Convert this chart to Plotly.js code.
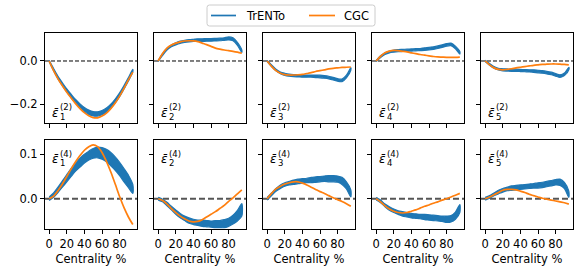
<!DOCTYPE html>
<html>
<head>
<meta charset="utf-8">
<script src="https://cdn.plot.ly/plotly-3.0.1.min.js"></script>
<style>html,body{margin:0;padding:0;background:#fff}#plot{width:581px;height:274px}</style>
</head>
<body>
<div id="plot"></div>
<script>
// Centrality bins (%)
const cent = [0,5,10,15,20,25,30,35,40,45,50,55,60,65,70,75,80,85,90,95];

// ---- Top row: eps_n^(2) ----
const trento_e1_2 = [0,-0.04,-0.077,-0.108,-0.137,-0.163,-0.187,-0.208,-0.225,-0.238,-0.245,-0.246,-0.24,-0.228,-0.21,-0.186,-0.157,-0.122,-0.085,-0.045];
const spread_e1_2 = [0.003,0.005,0.006,0.007,0.007,0.008,0.008,0.009,0.009,0.01,0.01,0.01,0.01,0.01,0.009,0.009,0.009,0.008,0.008,0.006];
const cgc_e1_2    = [0,-0.045,-0.083,-0.115,-0.145,-0.172,-0.198,-0.221,-0.24,-0.254,-0.263,-0.264,-0.256,-0.242,-0.221,-0.195,-0.163,-0.127,-0.088,-0.052];

const trento_e2_2 = [0,0.03,0.055,0.07,0.08,0.087,0.091,0.094,0.096,0.097,0.097,0.098,0.098,0.099,0.1,0.102,0.105,0.101,0.08,0.045];
const spread_e2_2 = [0.003,0.004,0.004,0.004,0.005,0.005,0.005,0.005,0.005,0.006,0.006,0.006,0.006,0.006,0.006,0.006,0.007,0.007,0.007,0.006];
const cgc_e2_2    = [0,0.035,0.06,0.074,0.083,0.089,0.093,0.094,0.093,0.09,0.083,0.076,0.068,0.06,0.055,0.051,0.048,0.045,0.041,0.036];

const trento_e3_2 = [0,-0.022,-0.042,-0.055,-0.062,-0.066,-0.068,-0.069,-0.07,-0.07,-0.07,-0.071,-0.072,-0.074,-0.077,-0.082,-0.088,-0.09,-0.072,-0.037];
const spread_e3_2 = [0.003,0.004,0.004,0.004,0.005,0.005,0.005,0.005,0.005,0.005,0.005,0.006,0.006,0.006,0.006,0.006,0.006,0.006,0.006,0.006];
const cgc_e3_2    = [0,-0.025,-0.045,-0.057,-0.063,-0.065,-0.065,-0.064,-0.062,-0.058,-0.054,-0.049,-0.045,-0.041,-0.037,-0.034,-0.032,-0.03,-0.029,-0.028];

const trento_e4_2 = [0,0.02,0.034,0.042,0.046,0.048,0.049,0.05,0.051,0.052,0.053,0.055,0.057,0.06,0.064,0.069,0.075,0.077,0.063,0.038];
const spread_e4_2 = [0.003,0.004,0.004,0.004,0.005,0.005,0.005,0.005,0.005,0.005,0.005,0.006,0.006,0.006,0.006,0.006,0.006,0.006,0.006,0.006];
const cgc_e4_2    = [0,0.022,0.038,0.046,0.049,0.048,0.045,0.042,0.038,0.034,0.03,0.027,0.024,0.021,0.019,0.018,0.017,0.017,0.017,0.018];

const trento_e5_2 = [0,-0.016,-0.03,-0.038,-0.041,-0.042,-0.043,-0.043,-0.044,-0.045,-0.046,-0.047,-0.049,-0.051,-0.054,-0.058,-0.064,-0.07,-0.062,-0.035];
const spread_e5_2 = [0.003,0.004,0.004,0.004,0.005,0.005,0.005,0.005,0.005,0.005,0.005,0.006,0.006,0.006,0.006,0.006,0.006,0.006,0.006,0.006];
const cgc_e5_2    = [0,-0.018,-0.032,-0.039,-0.041,-0.039,-0.036,-0.032,-0.029,-0.026,-0.023,-0.02,-0.018,-0.016,-0.015,-0.014,-0.014,-0.015,-0.016,-0.018];

// ---- Bottom row: eps_n^(4) ----
const trento_e1_4 = [0,0.008,0.02,0.033,0.046,0.059,0.071,0.081,0.09,0.097,0.102,0.104,0.102,0.097,0.089,0.079,0.067,0.053,0.039,0.022];
const spread_e1_4 = [0.004,0.005,0.006,0.007,0.008,0.009,0.009,0.01,0.01,0.01,0.011,0.012,0.013,0.014,0.015,0.015,0.015,0.015,0.014,0.01];
const cgc_e1_4    = [0,0.006,0.018,0.033,0.05,0.067,0.083,0.097,0.109,0.117,0.121,0.117,0.104,0.084,0.06,0.033,0.005,-0.02,-0.041,-0.058];

const trento_e2_4 = [0,-0.004,-0.012,-0.021,-0.03,-0.038,-0.044,-0.049,-0.052,-0.054,-0.055,-0.056,-0.057,-0.057,-0.057,-0.056,-0.053,-0.047,-0.038,-0.025];
const spread_e2_4 = [0.003,0.003,0.004,0.004,0.005,0.005,0.005,0.006,0.006,0.006,0.007,0.007,0.007,0.008,0.008,0.009,0.009,0.01,0.012,0.014];
const cgc_e2_4    = [0,-0.004,-0.012,-0.022,-0.031,-0.039,-0.045,-0.05,-0.052,-0.051,-0.047,-0.041,-0.035,-0.029,-0.022,-0.015,-0.006,0.002,0.011,0.02];

const trento_e3_4 = [0,0.01,0.02,0.027,0.032,0.035,0.037,0.039,0.04,0.041,0.042,0.043,0.044,0.045,0.045,0.045,0.044,0.04,0.03,0.012];
const spread_e3_4 = [0.003,0.003,0.003,0.004,0.004,0.004,0.005,0.005,0.005,0.005,0.006,0.006,0.006,0.006,0.007,0.007,0.007,0.008,0.008,0.008];
const cgc_e3_4    = [0,0.012,0.022,0.028,0.033,0.036,0.038,0.038,0.035,0.031,0.026,0.021,0.016,0.012,0.007,0.002,-0.002,-0.006,-0.011,-0.017];

const trento_e4_4 = [0,-0.006,-0.015,-0.022,-0.027,-0.031,-0.034,-0.036,-0.038,-0.039,-0.04,-0.041,-0.042,-0.043,-0.044,-0.045,-0.046,-0.045,-0.038,-0.022];
const spread_e4_4 = [0.003,0.003,0.003,0.004,0.004,0.004,0.005,0.005,0.005,0.005,0.005,0.006,0.006,0.006,0.006,0.006,0.007,0.007,0.008,0.009];
const cgc_e4_4    = [0,-0.007,-0.016,-0.023,-0.028,-0.031,-0.032,-0.031,-0.028,-0.025,-0.021,-0.017,-0.014,-0.01,-0.007,-0.003,0,0.004,0.008,0.012];

const trento_e5_4 = [0,0.004,0.01,0.015,0.019,0.022,0.024,0.025,0.026,0.027,0.028,0.029,0.03,0.031,0.033,0.035,0.037,0.037,0.03,0.01];
const spread_e5_4 = [0.003,0.003,0.003,0.004,0.004,0.004,0.005,0.005,0.005,0.005,0.005,0.005,0.006,0.006,0.006,0.006,0.006,0.007,0.007,0.007];
const cgc_e5_4    = [0,0.004,0.009,0.014,0.019,0.021,0.021,0.02,0.017,0.014,0.01,0.007,0.004,0.001,-0.001,-0.003,-0.005,-0.007,-0.009,-0.012];

const xTicks = [0,20,40,60,80];
const yTicksTop = [-0.2, 0.0];
const yTicksBottom = [0.0, 0.1];
const seriesNames = ['TrENTo','CGC'];
const panelLabels = ['1','2','3','4','5'];
const xTitle = 'Centrality %';

const trentoTop = [trento_e1_2,trento_e2_2,trento_e3_2,trento_e4_2,trento_e5_2];
const spreadTop = [spread_e1_2,spread_e2_2,spread_e3_2,spread_e4_2,spread_e5_2];
const cgcTop    = [cgc_e1_2,cgc_e2_2,cgc_e3_2,cgc_e4_2,cgc_e5_2];
const trentoBot = [trento_e1_4,trento_e2_4,trento_e3_4,trento_e4_4,trento_e5_4];
const spreadBot = [spread_e1_4,spread_e2_4,spread_e3_4,spread_e4_4,spread_e5_4];
const cgcBot    = [cgc_e1_4,cgc_e2_4,cgc_e3_4,cgc_e4_4,cgc_e5_4];

const BLUE = '#1f77b4', ORANGE = '#ff7f0e';
const W = 581, H = 274;
const FONT = 'DejaVu Sans, sans-serif';
const FS = 11.5;

const panelLeft = [45,154,263,372,481];
const panelW = 92;
const rowTop = [33,140], rowBot = [123,229];
const yRanges = [[-0.288,0.130],[-0.068,0.132]];

const data = [];
const layout = {
  width: W, height: H,
  margin: {l:0,r:0,t:0,b:0},
  paper_bgcolor: '#fff', plot_bgcolor: '#fff',
  font: {family: FONT, size: FS, color: '#000'},
  showlegend: false,
  shapes: [], annotations: []
};

const px = v => v / W;
const py = v => 1 - v / H;

for (let r = 0; r < 2; r++) {
  const trs = r === 0 ? trentoTop : trentoBot;
  const sps = r === 0 ? spreadTop : spreadBot;
  const cgs = r === 0 ? cgcTop : cgcBot;
  for (let c = 0; c < 5; c++) {
    const k = r*5 + c + 1;
    const xa = 'x' + k, ya = 'y' + k;
    const hi = trs[c].map((v,i) => v + sps[c][i]);
    const lo = trs[c].map((v,i) => v - sps[c][i]);
    data.push({
      x: cent.concat(cent.slice().reverse()),
      y: hi.concat(lo.slice().reverse()),
      xaxis: xa, yaxis: ya, type: 'scatter', mode: 'lines',
      name: seriesNames[0], fill: 'toself', fillcolor: BLUE,
      line: {color: BLUE, width: 1.2, shape: 'spline', smoothing: 0.8},
      showlegend: false, hoverinfo: 'skip'
    });
    data.push({
      x: cent, y: cgs[c], xaxis: xa, yaxis: ya, type: 'scatter', mode: 'lines',
      name: seriesNames[1],
      line: {color: ORANGE, width: 1.7, shape: 'spline', smoothing: 0.8},
      showlegend: false, hoverinfo: 'skip'
    });
    const xaKey = 'xaxis' + (k === 1 ? '' : k);
    const yaKey = 'yaxis' + (k === 1 ? '' : k);
    layout[xaKey] = {
      domain: [px(panelLeft[c]), px(panelLeft[c]+panelW)],
      anchor: ya, range: [-4.75, 99.75], tickvals: xTicks, ticktext: xTicks.map(String),
      showticklabels: r === 1, ticks: 'outside', ticklen: 4, tickwidth: 1, tickcolor: '#000',
      showline: true, mirror: true, linecolor: '#000', linewidth: 1,
      showgrid: false, zeroline: false,
      tickfont: {family: FONT, size: FS, color: '#000'},
      title: r === 1 ? {text: xTitle, font: {family: FONT, size: FS, color:'#000'}, standoff: 5} : {text: ''}
    };
    layout[yaKey] = {
      domain: [py(rowBot[r]), py(rowTop[r])],
      anchor: xa, range: yRanges[r],
      tickvals: r === 0 ? yTicksTop : yTicksBottom,
      tickformat: '.1f',
      showticklabels: c === 0, ticks: 'outside', ticklen: 4, tickwidth: 1, tickcolor: '#000',
      showline: true, mirror: true, linecolor: '#000', linewidth: 1,
      showgrid: false, zeroline: false,
      tickfont: {family: FONT, size: FS, color: '#000'}
    };
    layout.shapes.push({
      type: 'line', xref: xa + ' domain', yref: ya, x0: 0, x1: 1, y0: 0, y1: 0,
      layer: 'below',
      line: r === 0 ? {color: '#000', width: 1, dash: '4px,2px'} : {color: '#555', width: 1.8, dash: '6px,3px'}
    });
    // Label  eps-bar_n^(m)
    const base = r === 0 ? rowBot[r] - 4.5 : rowTop[r] + 24.5;
    const pl = panelLeft[c];
    layout.annotations.push({
      xref: 'paper', yref: 'paper', x: px(pl+6), y: py(base+3),
      xanchor: 'left', yanchor: 'bottom', showarrow: false, borderpad: 0,
      text: '<i>ε̄</i>', font: {family: FONT, size: 12, color: '#000'}
    });
    layout.annotations.push({
      xref: 'paper', yref: 'paper', x: px(pl+13.5), y: py(base+4.5),
      xanchor: 'left', yanchor: 'bottom', showarrow: false, borderpad: 0,
      text: panelLabels[c], font: {family: FONT, size: 8.5, color: '#000'}
    });
    layout.annotations.push({
      xref: 'paper', yref: 'paper', x: px(pl+14), y: py(base-5),
      xanchor: 'left', yanchor: 'bottom', showarrow: false, borderpad: 0,
      text: r === 0 ? '(2)' : '(4)', font: {family: FONT, size: 8.5, color: '#000'}
    });
  }
}

// ---- Legend (drawn as a framed box at the top centre) ----
const lgL = 207, lgR = 375, lgT = 5, lgB = 26, rad = 2.5;
const rx = rad / W, ry = rad / H;
const L = px(lgL), R = px(lgR), T = py(lgT), B = py(lgB);
layout.shapes.push({
  type: 'path', xref: 'paper', yref: 'paper', layer: 'above',
  path: `M ${L+rx},${T} L ${R-rx},${T} Q ${R},${T} ${R},${T-ry} L ${R},${B+ry} Q ${R},${B} ${R-rx},${B} L ${L+rx},${B} Q ${L},${B} ${L},${B+ry} L ${L},${T-ry} Q ${L},${T} ${L+rx},${T} Z`,
  fillcolor: 'rgba(255,255,255,0.8)', line: {color: '#cccccc', width: 1}
});
const lgY = 15.5;
const legendItems = [
  {name: seriesNames[0], color: BLUE, x0: 211, x1: 236, tx: 245},
  {name: seriesNames[1], color: ORANGE, x0: 309, x1: 335, tx: 343.5}
];
legendItems.forEach(it => {
  layout.shapes.push({type: 'line', xref: 'paper', yref: 'paper', layer: 'above',
    x0: px(it.x0), x1: px(it.x1), y0: py(lgY), y1: py(lgY), line: {color: it.color, width: 1.7}});
  layout.annotations.push({xref: 'paper', yref: 'paper', x: px(it.tx), y: py(lgY+0.5),
    xanchor: 'left', yanchor: 'middle', showarrow: false, borderpad: 0,
    text: it.name, font: {family: FONT, size: FS, color: '#000'}});
});

Plotly.newPlot('plot', data, layout, {staticPlot: true, displayModeBar: false});
</script>
</body>
</html>
